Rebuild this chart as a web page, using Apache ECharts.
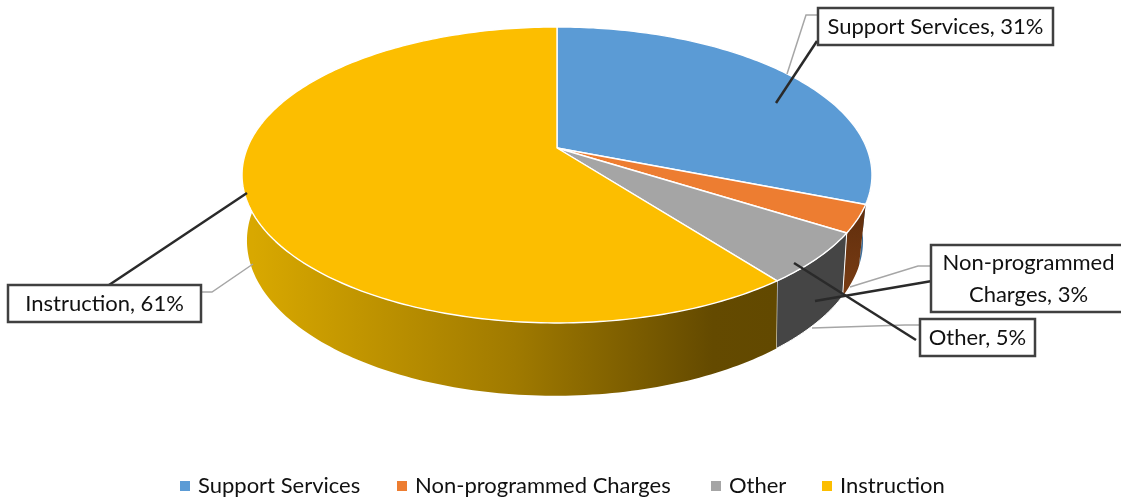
<!DOCTYPE html>
<html>
<head>
<meta charset="utf-8">
<style>html,body{margin:0;padding:0;background:#fff}#c{width:1121px;height:499px}</style>
<script src="https://cdn.jsdelivr.net/npm/echarts@6/dist/echarts.min.js"></script>
</head>
<body>
<div id="c"></div>
<script>
var categories = ['Support Services', 'Non-programmed Charges', 'Other', 'Instruction'];
var shares = [31, 3, 5.6, 60.4];
var calloutLines = [['Support Services, 31%'], ['Non-programmed', 'Charges, 3%'], ['Other, 5%'], ['Instruction, 61%']];
var topColors = ['#5B9BD5', '#ED7D31', '#A5A5A5', '#FCBE00'];

// Callout and legend layout (annotation furniture, not data marks)
var calloutBoxes = [[818, 8, 235, 37], [931, 245, 195, 67], [920, 319, 115, 37], [8, 285, 193, 37]];
var blackLeaders = [[[776, 103], [817, 41]], [[815, 301], [932, 281]], [[794, 263], [916, 340]], [[247, 193], [109, 285]]];
var greyLeaders = [[[817, 15], [806, 15], [787, 74]], [[930, 266], [918, 266], [850, 287]], [[919, 325], [905, 325], [812, 328]], [[201, 292], [212, 292], [253, 264]]];
var legendLefts = [175, 392, 706, 817];

// Perspective disc projections
var topDisc = {cx: 557, cy: 148, a: 309.7, b: 143.1, k: -0.182};
var baseDisc = {cx: 555, cy: 206.5, a: 300.5, b: 147.6, k: -0.22};
function project(d, deg) {
  var t = deg * Math.PI / 180, u = Math.sin(t), v = -Math.cos(t), w = 1 + d.k * v;
  return [d.cx + d.a * u / w, d.cy + d.b * v / w];
}
function arc(d, from, to) {
  var pts = [], n = Math.max(2, Math.ceil(Math.abs(to - from)));
  for (var i = 0; i <= n; i++) pts.push(project(d, from + (to - from) * i / n));
  return pts;
}
var total = shares.reduce(function (s, x) { return s + x; }, 0);
function bounds(i) {
  var s = 0;
  for (var j = 0; j < i; j++) s += shares[j];
  return [s / total * 360, (s + shares[i]) / total * 360];
}
function sideFill(i) {
  var g = echarts.graphic.LinearGradient;
  if (i === 3) return new g(253, 0, 775, 0, [
    {offset: 0, color: '#D8A800'}, {offset: 0.5, color: '#A07A00'}, {offset: 0.88, color: '#644A00'}, {offset: 1, color: '#624900'}], true);
  if (i === 2) return '#454545';
  if (i === 1) return new g(0, 200, 0, 300, [{offset: 0, color: '#5F2D0C'}, {offset: 1, color: '#7A3D14'}], true);
  return '#3F6E99';
}
function renderSlice(params) {
  var i = params.seriesIndex, b = bounds(i), kids = [];
  var visFrom = Math.max(b[0], 80), visTo = Math.min(b[1], 285);
  if (visTo > visFrom) {
    kids.push({type: 'polygon', z2: 1,
      shape: {points: arc(topDisc, visFrom, visTo).concat(arc(baseDisc, visTo, visFrom))},
      style: {fill: sideFill(i), stroke: i === 2 ? '#ffffff' : 'none', lineWidth: 1}});
  }
  kids.push({type: 'polygon', z2: 10,
    shape: {points: [[topDisc.cx, topDisc.cy]].concat(arc(topDisc, b[0], b[1]))},
    style: {fill: topColors[i], stroke: '#ffffff', lineWidth: 1.4, lineJoin: 'round'}});
  kids.push({type: 'polyline', z2: 15, shape: {points: greyLeaders[i]},
    style: {stroke: '#A6A6A6', lineWidth: 1.5, fill: 'none'}});
  kids.push({type: 'polyline', z2: 16, shape: {points: blackLeaders[i]},
    style: {stroke: '#2A2A2A', lineWidth: 2.5, fill: 'none'}});
  var box = calloutBoxes[i];
  kids.push({type: 'rect', z2: 20, shape: {x: box[0], y: box[1], width: box[2], height: box[3]},
    style: {fill: '#ffffff', stroke: '#404040', lineWidth: 2.5}});
  var lines = calloutLines[i], lh = 32;
  lines.forEach(function (txt, n) {
    kids.push({type: 'text', z2: 21, style: {
      text: txt, x: box[0] + box[2] / 2,
      y: box[1] + box[3] / 2 + (n - (lines.length - 1) / 2) * lh,
      align: 'center', verticalAlign: 'middle', fill: '#111111',
      font: '22px Lato, sans-serif'}});
  });
  return {type: 'group', children: kids};
}
var chart = echarts.init(document.getElementById('c'), null, {renderer: 'canvas'});
chart.setOption({
  animation: false,
  backgroundColor: '#ffffff',
  legend: categories.map(function (name, i) {
    return {
      data: [name], left: legendLefts[i], top: 470, itemWidth: 10, itemHeight: 10,
      icon: 'rect', selectedMode: false,
      textStyle: {fontFamily: 'Lato, sans-serif', fontSize: 22, color: '#111111', padding: [0, 0, 0, 3]}
    };
  }),
  series: categories.map(function (name, i) {
    return {type: 'custom', name: name, coordinateSystem: 'none', data: [shares[i]],
      itemStyle: {color: topColors[i]}, renderItem: renderSlice, silent: true};
  })
});
</script>
</body>
</html>
